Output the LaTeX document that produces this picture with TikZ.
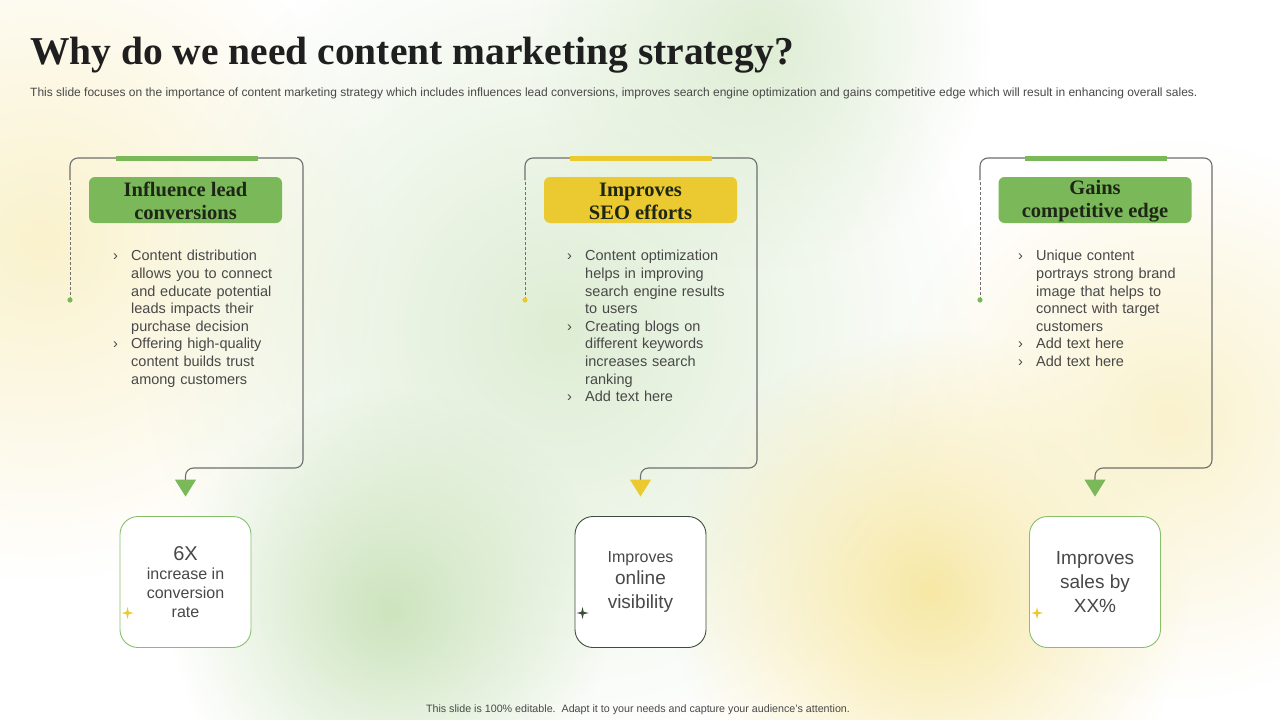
\documentclass[tikz,border=0pt]{standalone}
\usepackage{fontspec}
\setmainfont{Liberation Sans}
\newfontfamily\headfont{Liberation Serif}
\usepackage{xcolor}
\usetikzlibrary{arrows.meta,positioning,fadings}
\definecolor{leafGreen}{RGB}{122,184,90}
\definecolor{sunYellow}{RGB}{234,202,48}
\definecolor{frameGray}{RGB}{110,110,110}
\definecolor{bodyGray}{RGB}{72,72,72}
\definecolor{headInk}{RGB}{30,38,22}
\definecolor{darkRim}{RGB}{60,78,58}
\definecolor{glowYellow}{RGB}{247,232,165}
\definecolor{paleYellow}{RGB}{250,242,205}
\definecolor{glowGreen}{RGB}{205,228,190}
\definecolor{paleGreen}{RGB}{222,237,212}
\tikzfading[name=softBlob, inner color=transparent!0, outer color=transparent!100]
\newcommand{\chev}[1]{\par\noindent\hangindent=18pt\relax\hangafter=1\relax\hbox to 18pt{›\hfil}#1\par}
\newcommand{\nohyph}{\hyphenpenalty=10000\relax\exhyphenpenalty=10000\relax}
\newcommand{\sparkle}[2]{\fill[#1] (#2) ++(0,-6) -- ++(1.2,4.8) -- ++(4.8,1.2) -- ++(-4.8,1.2) -- ++(-1.2,4.8) -- ++(-1.2,-4.8) -- ++(-4.8,-1.2) -- ++(4.8,-1.2) -- cycle;}
\tikzset{
    slideHead/.style={
        rounded corners=6pt,
        minimum width=193pt,
        minimum height=46pt,
        align=center,
        inner sep=0pt,
        text=headInk,
        font=\headfont\bfseries\fontsize{20.5}{23}\selectfont
    },
    slideBullets/.style={
        anchor=north west,
        inner sep=0pt,
        text width=163pt,
        align=left,
        text=bodyGray,
        font=\fontsize{14.5}{17.6}\selectfont
    },
    slideResult/.style={
        draw,
        rounded corners=18pt,
        minimum size=131pt,
        fill=white,
        line width=0.9pt,
        align=center,
        inner sep=0pt,
        text=bodyGray,
        font=\fontsize{16}{19}\selectfont
    },
    slideFrame/.style={
        draw=frameGray,
        line width=1.1pt,
        rounded corners=8pt
    },
    slideDash/.style={
        draw=frameGray,
        line width=1pt,
        dash pattern=on 3pt off 2pt
    },
    slideBar/.style={
        line width=5pt
    }
}

\begin{document}
\begin{tikzpicture}[x=1pt, y=-1pt]
    \useasboundingbox (0,0) rectangle (1280,720);
    \fill[white] (0,0) rectangle (1280,720);

    % soft background glow
    \begin{scope}
        \clip (0,0) rectangle (1280,720);
        \fill[paleYellow, path fading=softBlob] (40,240) circle (340);
        \fill[paleGreen, path fading=softBlob] (560,330) circle (420);
        \fill[glowGreen, path fading=softBlob] (390,610) circle (220);
        \fill[paleGreen, path fading=softBlob] (760,40) circle (230);
        \fill[glowYellow, path fading=softBlob] (930,590) circle (260);
        \fill[paleYellow, path fading=softBlob] (1170,420) circle (280);
    \end{scope}

    \node[anchor=base west, inner sep=0pt, text=black!88,
          font=\headfont\bfseries\fontsize{39.5}{44}\selectfont] (title) at (30,64)
        {Why do we need content marketing strategy?};
    \node[anchor=base west, inner sep=0pt, text=bodyGray,
          font=\fontsize{12}{14}\selectfont] (subtitle) at (30,96)
        {This slide focuses on the importance of content marketing strategy which includes influences lead conversions, improves search engine optimization and gains competitive edge which will result in enhancing overall sales.};

    % panel 1
    \node[slideHead, fill=leafGreen] (headLead) at (185.5,200) {\strut Influence lead\\conversions};
    \node[slideBullets] (textLead) at (113,243)
        {\nohyph\chev{Content distribution allows you to connect and educate potential leads impacts their purchase decision}\chev{Offering high-quality content builds trust among customers}};
    \node[slideResult, draw=leafGreen!90] (resLead) at (185.5,582)
        {{\fontsize{20}{20}\selectfont 6X}\\increase in\\conversion\\rate};
    \coordinate (dotLead) at (70,300);
    \draw[slideDash] (dotLead) -- (70,180);
    \draw[slideFrame, -{Triangle[length=17pt,width=21pt,color=leafGreen]}, shorten >=19.5pt]
        (70,180) |- (303,158) -- (303,468) -| (resLead.north);
    \draw[slideBar, leafGreen] (116,158) -- (258,158);
    \fill[leafGreen] (dotLead) circle (2.6);
    \path (resLead.west) ++(8,31) coordinate (starLead);
    \sparkle{sunYellow}{starLead}

    % panel 2
    \node[slideHead, fill=sunYellow] (headSeo) at (640.5,200) {\strut Improves\\SEO efforts};
    \node[slideBullets] (textSeo) at (567,243)
        {\nohyph\chev{Content optimization helps in improving search engine results to users}\chev{Creating blogs on different keywords increases search ranking}\chev{Add text here}};
    \node[slideResult, draw=darkRim] (resSeo) at (640.5,582)
        {Improves\\[3pt]{\fontsize{19}{22}\selectfont online}\\[5pt]{\fontsize{19}{22}\selectfont visibility}};
    \coordinate (dotSeo) at (525,300);
    \draw[slideDash] (dotSeo) -- (525,180);
    \draw[slideFrame, -{Triangle[length=17pt,width=21pt,color=sunYellow]}, shorten >=19.5pt]
        (525,180) |- (757,158) -- (757,468) -| (resSeo.north);
    \draw[slideBar, sunYellow] (570,158) -- (712,158);
    \fill[sunYellow] (dotSeo) circle (2.6);
    \path (resSeo.west) ++(8,31) coordinate (starSeo);
    \sparkle{darkRim}{starSeo}

    % panel 3
    \node[slideHead, fill=leafGreen] (headEdge) at (1095,200) {\strut Gains\\competitive edge};
    \node[slideBullets] (textEdge) at (1018,243)
        {\nohyph\chev{Unique content portrays strong brand image that helps to connect with target customers}\chev{Add text here}\chev{Add text here}};
    \node[slideResult, draw=leafGreen!90, font=\fontsize{19}{24}\selectfont] (resEdge) at (1095,582)
        {Improves\\sales by\\XX\%};
    \coordinate (dotEdge) at (980,300);
    \draw[slideDash] (dotEdge) -- (980,180);
    \draw[slideFrame, -{Triangle[length=17pt,width=21pt,color=leafGreen]}, shorten >=19.5pt]
        (980,180) |- (1212,158) -- (1212,468) -| (resEdge.north);
    \draw[slideBar, leafGreen] (1025,158) -- (1167,158);
    \fill[leafGreen] (dotEdge) circle (2.6);
    \path (resEdge.west) ++(8,31) coordinate (starEdge);
    \sparkle{sunYellow}{starEdge}

    \node[anchor=base, inner sep=0pt, text=bodyGray, font=\fontsize{10.7}{12}\selectfont] (footer) at (638,712)
        {This slide is 100\% editable.\ \ Adapt it to your needs and capture your audience's attention.};
\end{tikzpicture}
\end{document}
